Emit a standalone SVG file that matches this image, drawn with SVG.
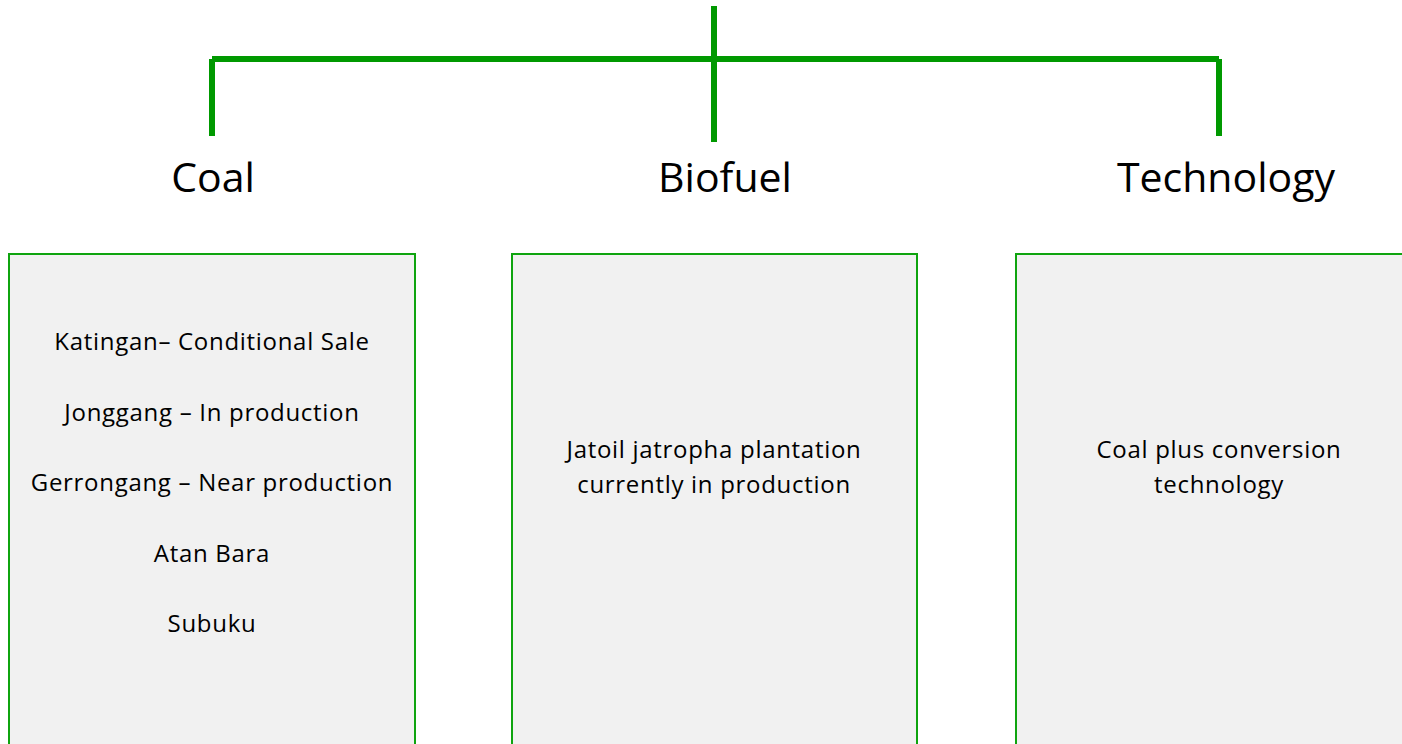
<svg xmlns="http://www.w3.org/2000/svg" width="1402" height="744" viewBox="0 0 1402 744">
<style>
.ln{stroke:#009900;stroke-width:6;fill:none}
.box{fill:#f1f1f1;stroke:#0fa40f;stroke-width:2}
.h{font-family:"Open Sans","Liberation Sans",sans-serif;font-size:41px;fill:#000;text-anchor:middle}
.t{font-family:"Open Sans","Liberation Sans",sans-serif;font-size:24px;letter-spacing:0.7px;fill:#000;text-anchor:middle}
</style>
<rect width="1402" height="744" fill="#fff"/>
<g id="connectors">
<line class="ln" x1="212" y1="59" x2="1219" y2="59"/>
<line class="ln" x1="212" y1="59" x2="212" y2="136"/>
<line class="ln" x1="714" y1="6" x2="714" y2="142"/>
<line class="ln" x1="1219" y1="59" x2="1219" y2="136"/>
</g>
<g id="coal">
<text class="h" x="213" y="192">Coal</text>
<rect class="box" x="9" y="254" width="406" height="500"/>
<text class="t" x="212" y="350">Katingan– Conditional Sale</text>
<text class="t" x="212" y="421">Jonggang – In production</text>
<text class="t" x="212" y="491">Gerrongang – Near production</text>
<text class="t" x="212" y="562">Atan Bara</text>
<text class="t" x="212" y="632">Subuku</text>
</g>
<g id="biofuel">
<text class="h" x="725" y="192">Biofuel</text>
<rect class="box" x="512" y="254" width="405" height="500"/>
<text class="t" x="714" y="458">Jatoil jatropha plantation</text>
<text class="t" x="714" y="493">currently in production</text>
</g>
<g id="technology">
<text class="h" x="1226" y="192">Technology</text>
<rect class="box" x="1016" y="254" width="405" height="500"/>
<text class="t" x="1219" y="458">Coal plus conversion</text>
<text class="t" x="1219" y="493">technology</text>
</g>
</svg>
